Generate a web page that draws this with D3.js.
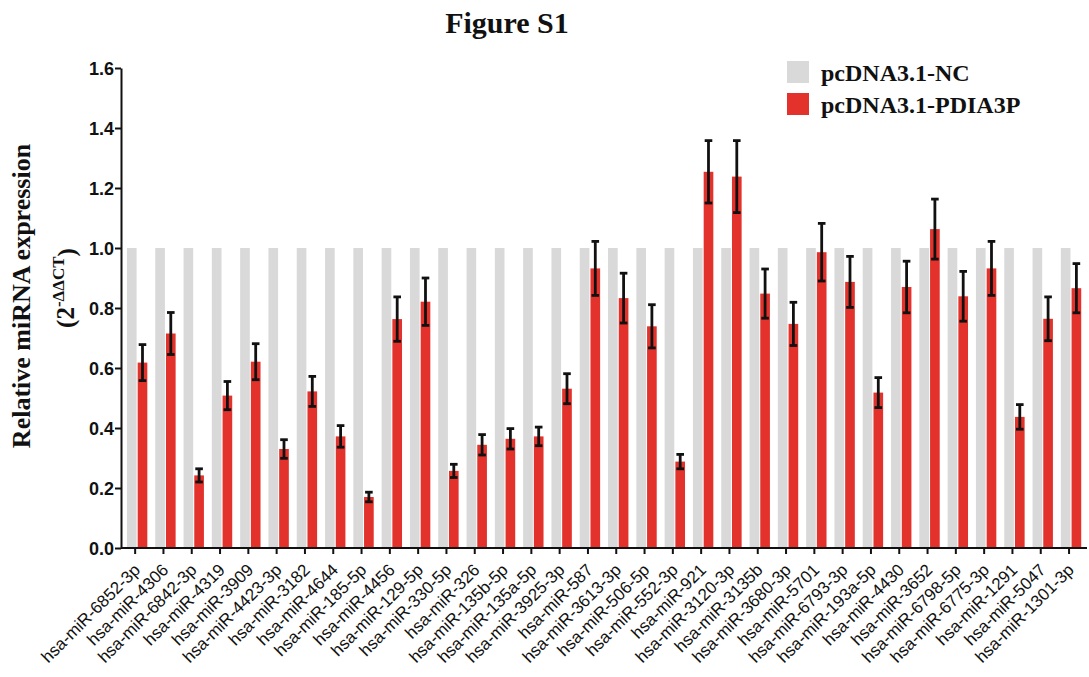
<!DOCTYPE html>
<html><head><meta charset="utf-8">
<script src="https://cdn.jsdelivr.net/npm/d3@7"></script>
<style>
html,body{margin:0;padding:0;background:#fff;}
svg{display:block;}
</style></head>
<body>
<svg id="chart" width="1089" height="677"></svg>
<script>
const categories = ["hsa-miR-6852-3p","hsa-miR-4306","hsa-miR-6842-3p","hsa-miR-4319","hsa-miR-3909","hsa-miR-4423-3p","hsa-miR-3182","hsa-miR-4644","hsa-miR-185-5p","hsa-miR-4456","hsa-miR-129-5p","hsa-miR-330-5p","hsa-miR-326","hsa-miR-135b-5p","hsa-miR-135a-5p","hsa-miR-3925-3p","hsa-miR-587","hsa-miR-3613-3p","hsa-miR-506-5p","hsa-miR-552-3p","hsa-miR-921","hsa-miR-3120-3p","hsa-miR-3135b","hsa-miR-3680-3p","hsa-miR-5701","hsa-miR-6793-3p","hsa-miR-193a-5p","hsa-miR-4430","hsa-miR-3652","hsa-miR-6798-5p","hsa-miR-6775-3p","hsa-miR-1291","hsa-miR-5047","hsa-miR-1301-3p"];
const ncValues = [1,1,1,1,1,1,1,1,1,1,1,1,1,1,1,1,1,1,1,1,1,1,1,1,1,1,1,1,1,1,1,1,1,1];
const pdiaValues = [0.618,0.715,0.242,0.508,0.621,0.330,0.522,0.372,0.170,0.763,0.821,0.257,0.344,0.364,0.372,0.531,0.932,0.833,0.739,0.288,1.254,1.238,0.848,0.747,0.986,0.887,0.518,0.870,1.063,0.839,0.932,0.437,0.764,0.866];
const pdiaErrors = [0.060,0.070,0.022,0.047,0.060,0.031,0.050,0.036,0.016,0.074,0.079,0.022,0.034,0.034,0.031,0.050,0.090,0.083,0.072,0.024,0.104,0.120,0.082,0.072,0.096,0.085,0.050,0.086,0.100,0.083,0.090,0.041,0.073,0.082];
const yTicks = [0,0.2,0.4,0.6,0.8,1.0,1.2,1.4,1.6];
const seriesNames = ["pcDNA3.1-NC","pcDNA3.1-PDIA3P"];
const seriesColors = ["#d9d9d9","#e3312b"];

const svg = d3.select("#chart");
const mLeft = 121, mBottom = 548, mTop = 68;
const step = 28.3;
const x = d3.scaleBand().domain(categories).range([mLeft, mLeft + step*categories.length]).padding(0);
const sub = d3.scaleBand().domain(seriesNames).range([x.bandwidth()*0.21, x.bandwidth()*0.93]).paddingInner(0.1);
const y = d3.scaleLinear().domain([0,1.6]).range([mBottom, mTop]);

const serif = "'Liberation Serif','Times New Roman',serif";
const sans = "'Liberation Sans',Arial,sans-serif";

// bars
const g = svg.append("g");
g.selectAll("rect.nc").data(categories).join("rect")
  .attr("x", d => x(d) + sub(seriesNames[0]))
  .attr("width", sub.bandwidth())
  .attr("y", (d,i) => y(ncValues[i]))
  .attr("height", (d,i) => y(0) - y(ncValues[i]))
  .attr("fill", seriesColors[0]);
g.selectAll("rect.pd").data(categories).join("rect")
  .attr("x", d => x(d) + sub(seriesNames[1]))
  .attr("width", sub.bandwidth())
  .attr("y", (d,i) => y(pdiaValues[i]))
  .attr("height", (d,i) => y(0) - y(pdiaValues[i]))
  .attr("fill", seriesColors[1]);

// error bars
const eb = svg.append("g").attr("stroke","#111").attr("stroke-width",2.8);
categories.forEach((c,i) => {
  const cx = x(c) + sub(seriesNames[1]) + sub.bandwidth()/2;
  const y1 = y(pdiaValues[i] + pdiaErrors[i]), y2 = y(pdiaValues[i] - pdiaErrors[i]);
  eb.append("line").attr("x1",cx).attr("x2",cx).attr("y1",y1).attr("y2",y2);
  eb.append("line").attr("x1",cx-3.8).attr("x2",cx+3.8).attr("y1",y1).attr("y2",y1);
  eb.append("line").attr("x1",cx-3.8).attr("x2",cx+3.8).attr("y1",y2).attr("y2",y2);
});

// y axis
const yAxis = svg.append("g").attr("transform",`translate(${mLeft},0)`)
  .call(d3.axisLeft(y).tickValues(yTicks).tickFormat(d3.format(".1f")).tickSize(6).tickSizeOuter(0));
yAxis.select(".domain").attr("stroke","#111").attr("stroke-width",2);
yAxis.selectAll(".tick line").attr("stroke","#111").attr("stroke-width",2);
yAxis.selectAll(".tick text").attr("font-family",sans).attr("font-weight","bold").attr("font-size","18px").attr("fill","#111").attr("x",-7).attr("dy","0.35em");

// x axis
const xAxis = svg.append("g").attr("transform",`translate(0,${mBottom})`)
  .call(d3.axisBottom(x).tickSize(6).tickSizeOuter(0));
xAxis.select(".domain").attr("stroke","#111").attr("stroke-width",2).attr("d",`M${mLeft},0H1087`);
xAxis.selectAll(".tick line").attr("stroke","#111").attr("stroke-width",2);
xAxis.selectAll(".tick text")
  .attr("font-family",sans).attr("font-size","17px").attr("fill","#111")
  .attr("text-anchor","end").attr("x",0).attr("y",0).attr("dy",0)
  .attr("transform","translate(6,23) rotate(-45)");

// title
svg.append("text").attr("x",507).attr("y",33).attr("text-anchor","middle")
  .attr("font-family",serif).attr("font-weight","bold").attr("font-size","30px").attr("fill","#111")
  .text("Figure S1");

// y title
svg.append("text").attr("transform","translate(30,296) rotate(-90)").attr("text-anchor","middle")
  .attr("font-family",serif).attr("font-weight","bold").attr("font-size","26px").attr("fill","#111")
  .text("Relative miRNA expression");
const yt2 = svg.append("text").attr("transform","translate(74,288) rotate(-90)").attr("text-anchor","middle")
  .attr("font-family",serif).attr("font-weight","bold").attr("font-size","25px").attr("fill","#111");
yt2.append("tspan").text("(2");
yt2.append("tspan").attr("dy","-0.6em").attr("font-size","17px").text("-ΔΔCT");
yt2.append("tspan").attr("dy","0.45em").text(")");

// legend
const lg = svg.append("g");
seriesNames.forEach((s,i) => {
  lg.append("rect").attr("x",787).attr("y",61 + i*32).attr("width",22).attr("height",22).attr("fill",seriesColors[i]);
  lg.append("text").attr("x",821).attr("y",81 + i*32)
    .attr("font-family",serif).attr("font-weight","bold").attr("font-size","24px").attr("fill","#111").text(s);
});
</script>
</body></html>
